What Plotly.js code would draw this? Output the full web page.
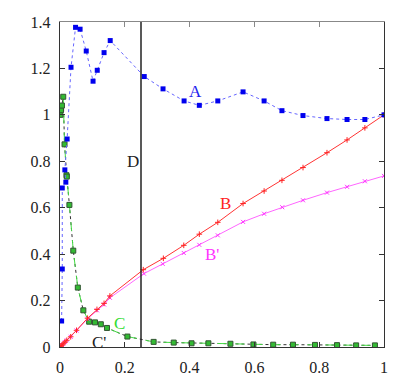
<!DOCTYPE html>
<html>
<head>
<meta charset="utf-8">
<script src="https://cdn.plot.ly/plotly-3.0.1.min.js"></script>
<style>
  body { margin: 0; background: #fff; }
  #chart { width: 405px; height: 384px; }
</style>
</head>
<body>
<div id="chart"></div>
<script>
// values
var aX = [0.005, 0.007, 0.007, 0.018, 0.015, 0.022, 0.034, 0.048, 0.062, 0.081, 0.102, 0.115, 0.136, 0.155,
          0.26, 0.318, 0.383, 0.43, 0.487, 0.565, 0.63, 0.685, 0.75, 0.824, 0.886, 0.941, 1.0];
var aY = [0.112, 0.336, 0.685, 0.71, 0.763, 0.896, 1.205, 1.377, 1.369, 1.275, 1.145, 1.192, 1.268, 1.32,
          1.165, 1.112, 1.06, 1.041, 1.06, 1.099, 1.06, 1.018, 0.997, 0.984, 0.98, 0.98, 1.0];

var bX = [0, 0.003, 0.006, 0.01, 0.015, 0.021, 0.033, 0.051, 0.085, 0.114, 0.136, 0.154,
          0.257, 0.319, 0.382, 0.43, 0.487, 0.565, 0.63, 0.685, 0.75, 0.824, 0.886, 0.941, 1.0];
var bY = [0, 0.004, 0.008, 0.014, 0.021, 0.029, 0.044, 0.072, 0.124, 0.162, 0.188, 0.22,
          0.333, 0.382, 0.438, 0.486, 0.537, 0.618, 0.672, 0.718, 0.773, 0.837, 0.892, 0.944, 1.0];

var bpX = [0, 0.003, 0.006, 0.01, 0.015, 0.021, 0.033, 0.051, 0.085, 0.114, 0.136, 0.154,
           0.259, 0.317, 0.382, 0.43, 0.487, 0.565, 0.63, 0.686, 0.75, 0.824, 0.886, 0.941, 1.0];
var bpY = [0, 0.004, 0.008, 0.014, 0.021, 0.029, 0.044, 0.071, 0.122, 0.158, 0.183, 0.212,
           0.316, 0.358, 0.405, 0.44, 0.481, 0.539, 0.574, 0.602, 0.632, 0.665, 0.69, 0.714, 0.737];

var cX = [0.001, 0.003, 0.006, 0.01, 0.014, 0.02, 0.021, 0.029, 0.041, 0.055, 0.072, 0.09, 0.108, 0.126, 0.145,
          0.208, 0.289, 0.351, 0.406, 0.458, 0.526, 0.597, 0.658, 0.719, 0.787, 0.855, 0.914, 0.972];
var cY = [1.0, 1.02, 1.04, 1.078, 0.873, 0.74, 0.734, 0.612, 0.415, 0.256, 0.158, 0.109, 0.106, 0.098, 0.082,
          0.045, 0.022, 0.019, 0.016, 0.016, 0.014, 0.011, 0.01, 0.01, 0.009, 0.008, 0.007, 0.007];

var xTicks = [0, 0.2, 0.4, 0.6, 0.8, 1];
var yTicks = [0, 0.2, 0.4, 0.6, 0.8, 1, 1.2, 1.4];
var lineD = 0.25;

var serif = "Liberation Serif";

var traceCp = {
  type: 'scatter', x: cX, y: cY, mode: 'lines', name: "C'",
  line: { color: '#333333', width: 1, dash: 'dot' }, hoverinfo: 'skip'
};
var traceC = {
  type: 'scatter', x: cX, y: cY, mode: 'lines+markers', name: 'C',
  line: { color: '#44dd44', width: 1, dash: 'dash' },
  marker: { symbol: 'square', size: 5, color: '#33bb33', line: { color: '#335533', width: 1 } }
};
var traceBp = {
  type: 'scatter', x: bpX, y: bpY, mode: 'lines+markers', name: "B'",
  line: { color: '#ff66ff', width: 1 },
  marker: { symbol: 'x-thin', size: 4, color: '#ff33ff', line: { color: '#ff33ff', width: 1 } }
};
var traceB = {
  type: 'scatter', x: bX, y: bY, mode: 'lines+markers', name: 'B',
  line: { color: '#ff3333', width: 1 },
  marker: { symbol: 'cross-thin', size: 4, color: '#ff2222', line: { color: '#ff2222', width: 1 } }
};
var traceA = {
  type: 'scatter', x: aX, y: aY, mode: 'lines+markers', name: 'A',
  line: { color: '#6666ff', width: 1, dash: 'dot' },
  marker: { symbol: 'square', size: 5, color: '#0000ee' }
};

var layout = {
  width: 405,
  height: 384,
  margin: { l: 60, r: 21, t: 22, b: 37 },
  showlegend: false,
  paper_bgcolor: '#ffffff',
  plot_bgcolor: '#ffffff',
  font: { family: serif, size: 16, color: '#222' },
  xaxis: {
    range: [0, 1], tickvals: xTicks, ticktext: xTicks.map(String),
    showgrid: false, zeroline: false, showline: true, linecolor: '#333', linewidth: 1.2,
    ticks: 'inside', ticklen: 5, tickcolor: '#333', mirror: false, ticklabelstandoff: 6,
    tickfont: { family: serif, size: 16, color: '#222' }
  },
  xaxis2: {
    range: [0, 1], overlaying: 'x', side: 'top', tickvals: xTicks, showticklabels: false,
    showgrid: false, zeroline: false, showline: true, linecolor: '#888', linewidth: 1.2,
    ticks: 'inside', ticklen: 5, tickcolor: '#888'
  },
  yaxis: {
    range: [0, 1.4], tickvals: yTicks, ticktext: yTicks.map(String),
    showgrid: false, zeroline: false, showline: true, linecolor: '#333', linewidth: 1.2,
    ticks: 'inside', ticklen: 5, tickcolor: '#333', mirror: 'ticks', ticklabelstandoff: 5,
    tickfont: { family: serif, size: 16, color: '#222' }
  },
  shapes: [
    { type: 'line', xref: 'x', yref: 'y', x0: lineD, x1: lineD, y0: 0, y1: 1.4,
      line: { color: '#222', width: 1.5 } }
  ],
  annotations: [
    { x: 0.417, y: 1.1, text: 'A', showarrow: false, font: { family: serif, size: 17, color: '#2222ee' } },
    { x: 0.512, y: 0.62, text: 'B', showarrow: false, font: { family: serif, size: 17, color: '#ff2222' } },
    { x: 0.468, y: 0.397, text: "B'", showarrow: false, font: { family: serif, size: 17, color: '#ff33ff' } },
    { x: 0.185, y: 0.1, text: 'C', showarrow: false, font: { family: serif, size: 17, color: '#33dd33' } },
    { x: 0.12, y: 0.02, text: "C'", showarrow: false, font: { family: serif, size: 17, color: '#222' } },
    { x: lineD, y: 0.8, xanchor: 'right', text: 'D', showarrow: false, font: { family: serif, size: 17, color: '#222' } }
  ]
};

var dummyTop = { type: 'scatter', x: [0], y: [0], xaxis: 'x2', mode: 'markers',
                 marker: { opacity: 0 }, hoverinfo: 'skip' };

Plotly.newPlot('chart', [traceCp, traceC, traceBp, traceB, traceA, dummyTop], layout,
               { displayModeBar: false, staticPlot: true });
</script>
</body>
</html>
